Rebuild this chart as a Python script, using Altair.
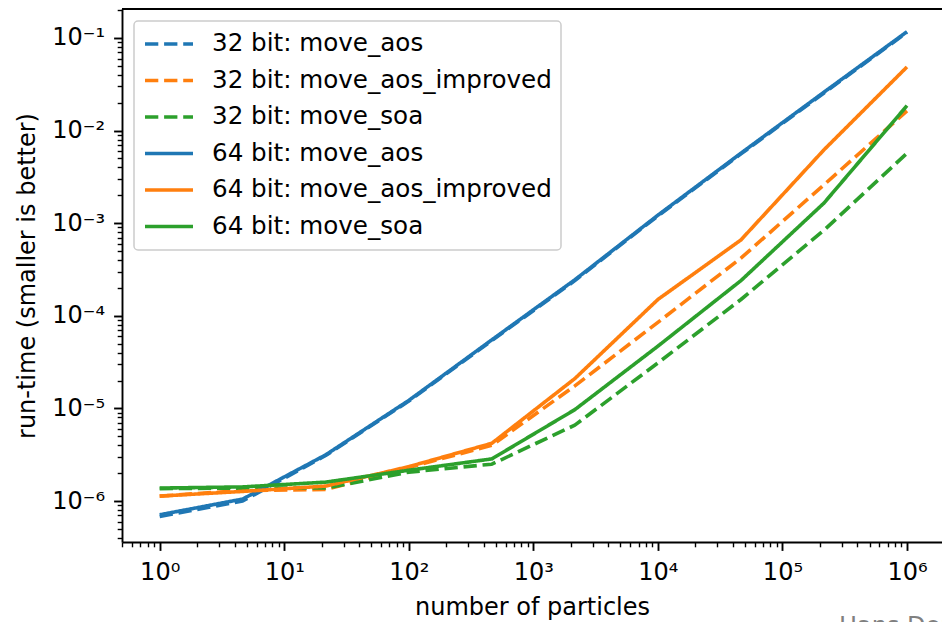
import altair as alt
import pandas as pd

# number of particles (x positions of the measurements)
n_particles = [1, 4.64, 21.5, 100, 464, 2154, 10000, 46416, 215443, 1000000]

series_names = [
    "32 bit: move_aos",
    "32 bit: move_aos_improved",
    "32 bit: move_soa",
    "64 bit: move_aos",
    "64 bit: move_aos_improved",
    "64 bit: move_soa",
]

# run-times (seconds)
aos_32 = [6.8e-7, 1.0e-6, 3.1e-6, 1.2e-5, 5.4e-5, 2.4e-4, 1.2e-3, 5.6e-3, 2.55e-2, 1.15e-1]
aos_improved_32 = [1.13e-6, 1.3e-6, 1.33e-6, 2.3e-6, 4.0e-6, 1.75e-5, 8.5e-5, 4.2e-4, 2.6e-3, 1.63e-2]
soa_32 = [1.36e-6, 1.38e-6, 1.38e-6, 2.05e-6, 2.5e-6, 6.6e-6, 3.1e-5, 1.5e-4, 8.4e-4, 5.7e-3]
aos_64 = [7.1e-7, 1.05e-6, 3.15e-6, 1.22e-5, 5.5e-5, 2.45e-4, 1.22e-3, 5.7e-3, 2.6e-2, 1.17e-1]
aos_improved_64 = [1.13e-6, 1.27e-6, 1.45e-6, 2.35e-6, 4.2e-6, 2.1e-5, 1.5e-4, 6.6e-4, 6.2e-3, 4.87e-2]
soa_64 = [1.38e-6, 1.42e-6, 1.6e-6, 2.15e-6, 2.85e-6, 9.7e-6, 4.7e-5, 2.4e-4, 1.65e-3, 1.86e-2]

all_series = [aos_32, aos_improved_32, soa_32, aos_64, aos_improved_64, soa_64]

colors = ["#1f77b4", "#ff7f0e", "#2ca02c", "#1f77b4", "#ff7f0e", "#2ca02c"]
dashes = [[13.3, 5.8], [13.3, 5.8], [13.3, 5.8], [1, 0], [1, 0], [1, 0]]

rows = []
for name, vals in zip(series_names, all_series):
    for i, (n, t) in enumerate(zip(n_particles, vals)):
        rows.append({"series": name, "n": n, "t": t, "i": i})
df = pd.DataFrame(rows)

x_ticks = [m * 10 ** e for e in range(-1, 7) for m in range(1, 10)]
x_ticks = [v for v in x_ticks if 0.49 <= v <= 1.9e6]
y_ticks = [m * 10.0 ** e for e in range(-7, 0) for m in range(1, 10)]
y_ticks = [v for v in y_ticks if 3.6e-7 <= v <= 0.205]

is_major = "abs(log(datum.value)/LN10 - round(log(datum.value)/LN10)) < 0.001"
sup = "['⁰','¹','²','³','⁴','⁵','⁶','⁷']"

x_axis = alt.Axis(
    values=x_ticks,
    title="number of particles",
    labelExpr=f"{is_major} ? '10' + {sup}[round(log(datum.value)/LN10)] : ''",
    tickSize={"condition": {"test": is_major, "value": 8.4}, "value": 4.8},
    tickWidth={"condition": {"test": is_major, "value": 1.9}, "value": 1.4},
    labelOverlap=False,
    labelFlush=False,
    labelPadding=10,
    titlePadding=11,
    grid=False,
)
y_axis = alt.Axis(
    values=y_ticks,
    title="run-time (smaller is better)",
    labelExpr=f"{is_major} ? '10⁻' + {sup}[-round(log(datum.value)/LN10)] : ''",
    tickSize={"condition": {"test": is_major, "value": 8.4}, "value": 4.8},
    tickWidth={"condition": {"test": is_major, "value": 1.9}, "value": 1.4},
    labelOverlap=False,
    labelFlush=False,
    labelPadding=9,
    titlePadding=12,
    grid=False,
)

legend = alt.Legend(
    title=None,
    orient="none",
    legendX=12,
    legendY=12,
    symbolType="stroke",
    symbolSize=2304,
    symbolStrokeWidth=3.6,
    labelFontSize=24.6,
    labelLimit=600,
    labelOffset=17,
    padding=9,
    rowPadding=8.5,
    clipHeight=28,
)

lines = alt.Chart(df).mark_line(strokeWidth=3.6, strokeCap="butt", strokeJoin="round", clip=True).encode(
    x=alt.X("n:Q", scale=alt.Scale(type="log", domain=[10 ** -0.3026, 10 ** 6.281], nice=False), axis=x_axis),
    y=alt.Y("t:Q", scale=alt.Scale(type="log", domain=[3.61e-7, 0.2056], nice=False), axis=y_axis),
    color=alt.Color("series:N", scale=alt.Scale(domain=series_names, range=colors), legend=legend),
    strokeDash=alt.StrokeDash("series:N", scale=alt.Scale(domain=series_names, range=dashes), legend=legend),
    order=alt.Order("i:Q"),
)

top_border = alt.Chart(pd.DataFrame({"a": [0]})).mark_rule(color="black", strokeWidth=1.9).encode(
    x=alt.value(0), x2=alt.value(820), y=alt.value(0)
)

watermark = alt.Chart(pd.DataFrame({"a": [0]})).mark_text(
    text="Hans Dembinski", fontSize=24, color="#808080", align="left", baseline="alphabetic"
).encode(x=alt.value(717), y=alt.value(625))

chart = (
    alt.layer(lines, top_border, watermark)
    .properties(
        width=820,
        height=533,
        autosize=alt.AutoSizeParams(type="none"),
        padding={"left": 122, "top": 9, "right": 0, "bottom": 80},
    )
    .configure(font="DejaVu Sans")
    .configure_view(stroke=None)
    .configure_axis(
        labelFontSize=24,
        titleFontSize=24,
        titleFontWeight="normal",
        labelColor="black",
        titleColor="black",
        domainColor="black",
        domainWidth=1.9,
        tickColor="black",
        labelFont="DejaVu Sans",
        titleFont="DejaVu Sans",
    )
    .configure_legend(
        labelColor="black",
        labelFont="DejaVu Sans",
        strokeColor="#cccccc",
        strokeWidth=1.5,
        fillColor="rgba(255,255,255,0.8)",
        cornerRadius=4,
    )
)

chart.save("out.html", embed_options={"renderer": "svg", "actions": False})
